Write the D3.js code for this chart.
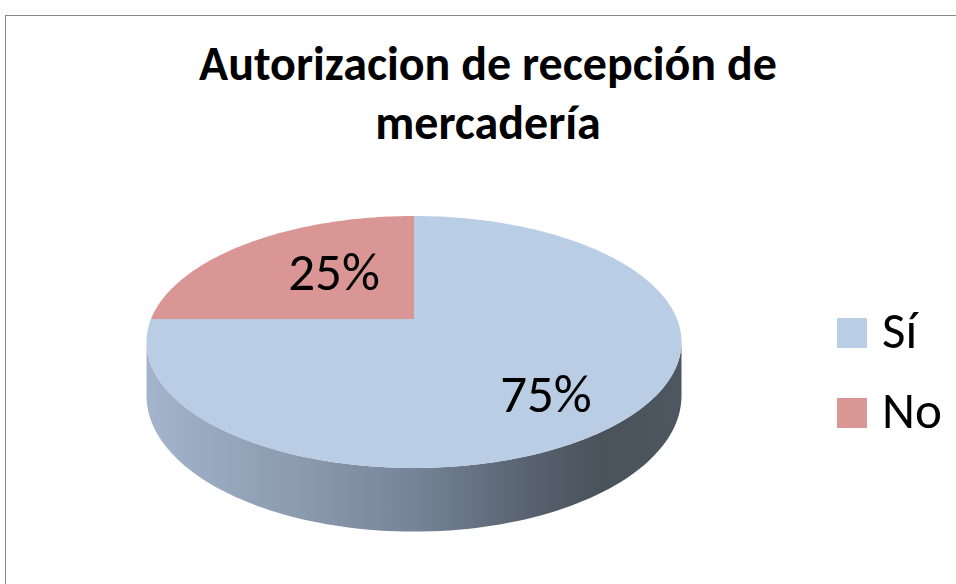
<!DOCTYPE html>
<html>
<head>
<meta charset="utf-8">
<script src="https://cdn.jsdelivr.net/npm/d3@7"></script>
<style>
  body { margin: 0; background: #fff; }
  svg { display: block; }
  text { font-family: Calibri, Carlito, "Open Sans", sans-serif; }
</style>
</head>
<body>
<div id="chart"></div>
<script>
// data
const categories = ["Sí", "No"];
const percentages = [75, 25];
const sliceColors = ["#b9cde5", "#d99694"];
const titleLines = ["Autorizacion de recepción de", "mercadería"];

const width = 956, height = 584;

const svg = d3.select("#chart").append("svg")
    .attr("width", width)
    .attr("height", height);

// chart area border (only top and left show)
svg.append("rect")
    .attr("x", 5.5).attr("y", 15.5)
    .attr("width", 1000).attr("height", 1000)
    .attr("fill", "none")
    .attr("stroke", "#8a8a8a");

svg.selectAll(".title")
    .data(titleLines)
    .join("text")
    .attr("class", "title")
    .attr("x", 488)
    .attr("y", (d, i) => 80 + i * 59)
    .attr("text-anchor", "middle")
    .style("font-size", "48px")
    .style("font-weight", "bold")
    .text(d => d);

// pie in perspective: unit circle projected, far side squeezed
const cx = 414, cy = 319, rx = 263, ry = 121.8, k = 0.1825, depth = 52;

function project(a, r, sy = 1) {
    const u = Math.sin(a) * r, v = -Math.cos(a) * r, w = 1 - k * v;
    return [cx + rx * u / w, cy + sy * ry * v / w];
}
function drop(a) {
    return depth / (1 + k * Math.cos(a));
}

const pie = d3.pie().sort(null).value(d => d);
const arcs = pie(percentages);
const line = d3.line();

// side wall gradient
const defs = svg.append("defs");
const grad = defs.append("linearGradient")
    .attr("id", "side")
    .attr("gradientUnits", "userSpaceOnUse")
    .attr("x1", cx - rx - 5).attr("x2", cx + rx + 5)
    .attr("y1", 0).attr("y2", 0);
grad.selectAll("stop")
    .data([[0, "#a3b4cc"], [0.3, "#8a99ac"], [0.5, "#758498"], [0.75, "#545d69"], [0.85, "#4a525c"], [1, "#4e5660"]])
    .join("stop")
    .attr("offset", d => d[0])
    .attr("stop-color", d => d[1]);

// visible front side, between the two silhouette points
const aL = Math.acos(-k), aR = 2 * Math.PI - Math.acos(-k);
const sideTop = d3.range(0, 101).map(i => aL + (aR - aL) * i / 100);
const sidePts = sideTop.map(a => project(a, 1))
    .concat(sideTop.slice().reverse().map(a => {
        const p = project(a, 1);
        return [p[0], p[1] + drop(a)];
    }));
svg.append("path")
    .attr("d", line(sidePts) + "Z")
    .attr("fill", "url(#side)");

// top faces
svg.selectAll(".slice")
    .data(arcs)
    .join("path")
    .attr("class", "slice")
    .attr("d", d => {
        const n = Math.max(2, Math.ceil((d.endAngle - d.startAngle) / 0.02));
        const pts = [project(0, 0)].concat(d3.range(n + 1).map(i =>
            project(d.startAngle + (d.endAngle - d.startAngle) * i / n, 1)));
        return line(pts) + "Z";
    })
    .attr("fill", (d, i) => sliceColors[i]);

// data labels
const labelR = [0.65, 0.455];
const labelPos = (d, i) => project((d.startAngle + d.endAngle) / 2, labelR[i], 1.25);
svg.selectAll(".label")
    .data(arcs)
    .join("text")
    .attr("class", "label")
    .attr("x", (d, i) => labelPos(d, i)[0])
    .attr("y", (d, i) => labelPos(d, i)[1])
    .attr("dy", "0.32em")
    .attr("text-anchor", "middle")
    .style("font-size", "53px")
    .text(d => d.data + "%");

// legend
const legend = svg.selectAll(".legend")
    .data(categories)
    .join("g")
    .attr("class", "legend")
    .attr("transform", (d, i) => `translate(837,${318 + i * 80})`);
legend.append("rect")
    .attr("width", 30).attr("height", 30)
    .attr("fill", (d, i) => sliceColors[i]);
legend.append("text")
    .attr("x", 45).attr("y", 30)
    .style("font-size", "51px")
    .text(d => d);
</script>
</body>
</html>
